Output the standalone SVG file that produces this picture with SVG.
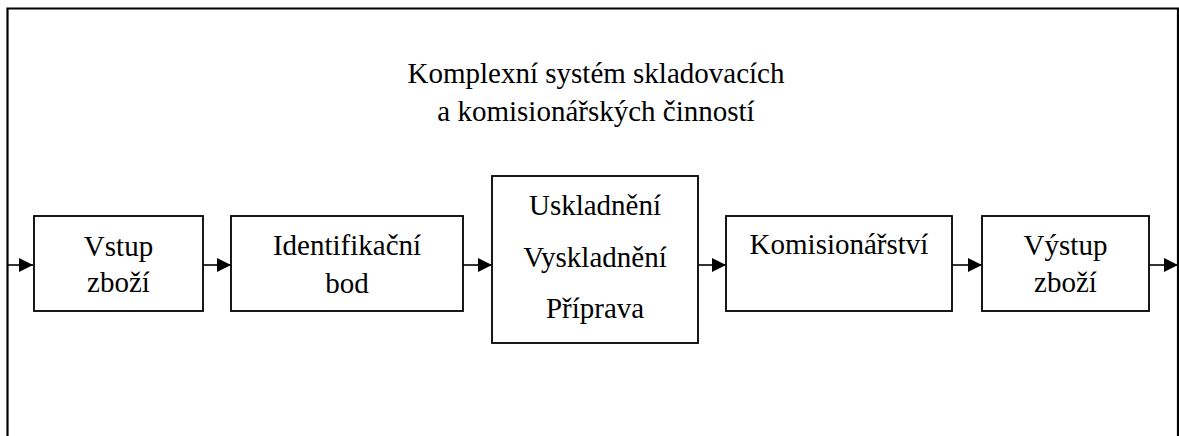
<svg xmlns="http://www.w3.org/2000/svg" width="1179" height="436" viewBox="0 0 1179 436">
<defs>
<style>
.frame{fill:none;stroke:#000;stroke-width:2.2}
.box{fill:#fff;stroke:#000;stroke-width:1.8}
.t{font-family:'Liberation Serif','DejaVu Serif',serif;font-size:29px;fill:#000;text-anchor:middle}
.c{fill:none;stroke:#000;stroke-width:1.6}
</style>
<marker id="ah" markerUnits="userSpaceOnUse" markerWidth="16" markerHeight="16" viewBox="0 0 16 16" refX="15" refY="8" orient="auto">
<path d="M1,1 L15,8 L1,15 Z" fill="#000"/>
</marker>
</defs>
<rect width="1179" height="436" fill="#fff"/>
<g id="frame">
<path class="frame" d="M7.5,436 L7.5,8.5 L1178,8.5 L1178,436"/>
</g>
<g id="title">
<text class="t" x="596" y="83">Komplexní systém skladovacích</text>
<text class="t" x="596" y="121">a komisionářských činností</text>
</g>
<g id="connectors">
<line class="c" x1="8" y1="265" x2="33" y2="265" marker-end="url(#ah)"/>
<line class="c" x1="203" y1="265" x2="231" y2="265" marker-end="url(#ah)"/>
<line class="c" x1="463" y1="265" x2="492" y2="265" marker-end="url(#ah)"/>
<line class="c" x1="698" y1="265" x2="726" y2="265" marker-end="url(#ah)"/>
<line class="c" x1="952" y1="265" x2="982" y2="265" marker-end="url(#ah)"/>
<line class="c" x1="1149" y1="265" x2="1178" y2="265" marker-end="url(#ah)"/>
</g>
<g id="n1">
<rect class="box" x="34" y="216" width="169" height="95"/>
<text class="t" x="118.5" y="256">Vstup</text>
<text class="t" x="118.5" y="292">zboží</text>
</g>
<g id="n2">
<rect class="box" x="231" y="216" width="232" height="95"/>
<text class="t" x="347" y="255">Identifikační</text>
<text class="t" x="347" y="293">bod</text>
</g>
<g id="n3">
<rect class="box" x="492" y="176" width="206" height="167"/>
<text class="t" x="595" y="215">Uskladnění</text>
<text class="t" x="595" y="267">Vyskladnění</text>
<text class="t" x="595" y="318">Příprava</text>
</g>
<g id="n4">
<rect class="box" x="726" y="216" width="226" height="95"/>
<text class="t" x="839" y="254">Komisionářství</text>
</g>
<g id="n5">
<rect class="box" x="982" y="216" width="167" height="95"/>
<text class="t" x="1065.5" y="255">Výstup</text>
<text class="t" x="1065.5" y="292">zboží</text>
</g>
</svg>
